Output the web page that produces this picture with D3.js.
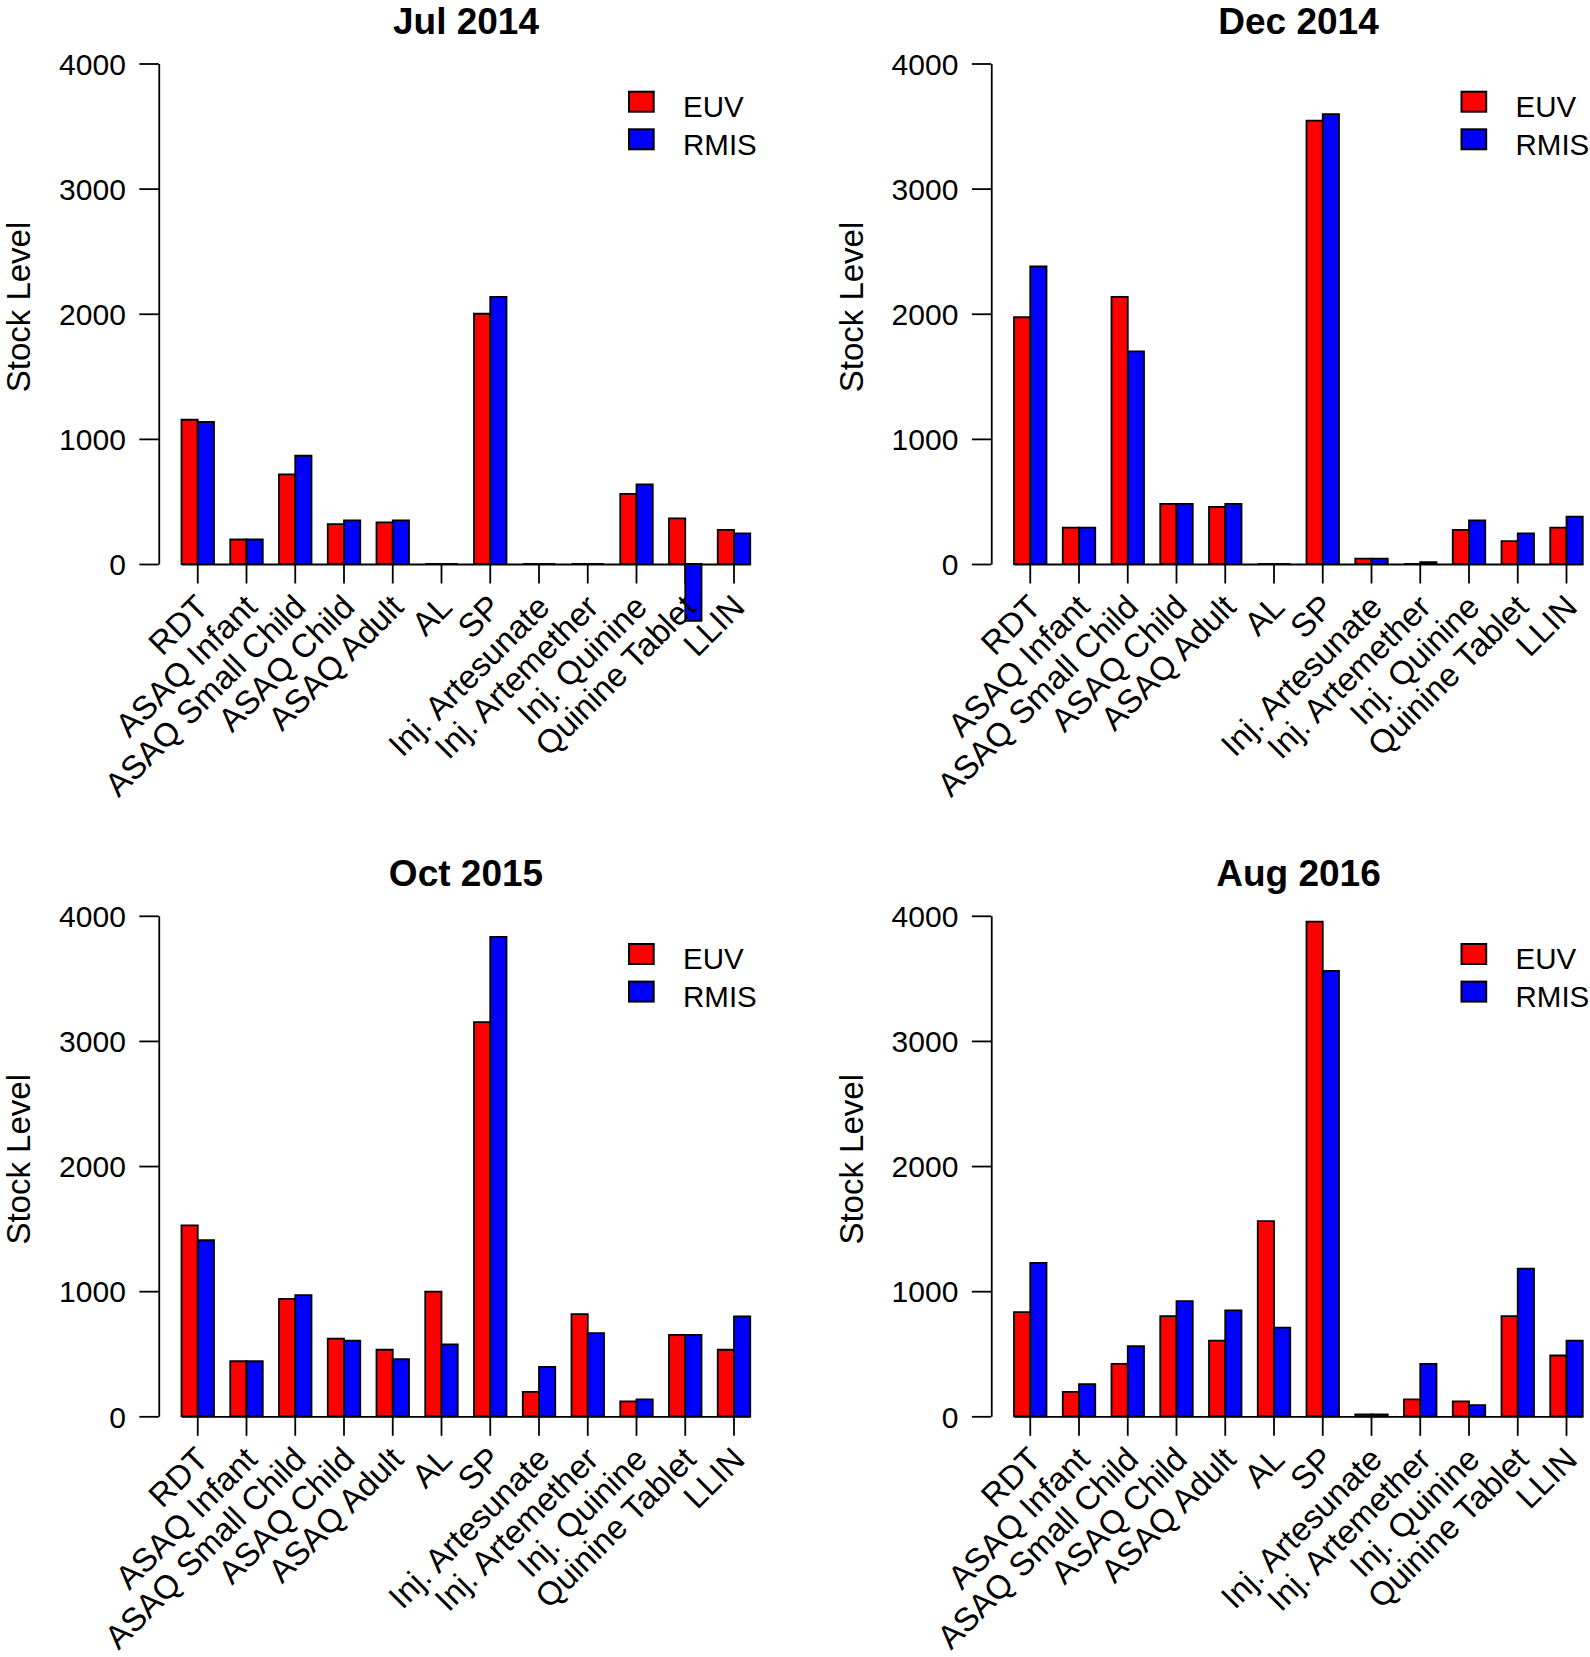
<!DOCTYPE html>
<html>
<head>
<meta charset="utf-8">
<script src="https://cdn.jsdelivr.net/npm/d3@7"></script>
<style>
  html, body { margin: 0; padding: 0; background: #fff; }
  svg { display: block; font-family: "Liberation Sans", Arial, Helvetica, sans-serif; }
</style>
</head>
<body>
<script>
// ---------------- data ----------------
const categories = ["RDT", "ASAQ Infant", "ASAQ Small Child", "ASAQ Child", "ASAQ Adult", "AL", "SP",
  "Inj. Artesunate", "Inj. Artemether", "Inj. Quinine", "Quinine Tablet", "LLIN"];
const seriesNames = ["EUV", "RMIS"];
const seriesColors = ["#ff0000", "#0000ff"];
const periods = ["Jul 2014", "Dec 2014", "Oct 2015", "Aug 2016"];

const jul2014EUV  = [1153, 196, 716, 318, 333, 0, 2000, 0, 0, 560, 364, 272];
const jul2014RMIS = [1135, 196, 865, 349, 349, 0, 2135, 0, 0, 636, -455, 245];
const dec2014EUV  = [1972, 290, 2135, 480, 456, 0, 3544, 43, 0, 272, 183, 290];
const dec2014RMIS = [2379, 290, 1700, 480, 480, 0, 3596, 43, 15, 349, 245, 379];
const oct2015EUV  = [1526, 440, 939, 621, 532, 997, 3150, 196, 816, 119, 651, 532];
const oct2015RMIS = [1407, 440, 969, 605, 456, 575, 3832, 394, 664, 135, 651, 798];
const aug2016EUV  = [832, 196, 419, 801, 605, 1560, 3954, 15, 135, 119, 801, 486];
const aug2016RMIS = [1226, 257, 560, 920, 847, 709, 3560, 15, 419, 89, 1180, 605];

const yTicks = [0, 1000, 2000, 3000, 4000];
const yDomain = [0, 4000];
const yLabel = "Stock Level";

const panelSeries = [
  [jul2014EUV, jul2014RMIS],
  [dec2014EUV, dec2014RMIS],
  [oct2015EUV, oct2015RMIS],
  [aug2016EUV, aug2016RMIS]
];

// ---------------- layout ----------------
const W = 1590, H = 1657;
const panelOrigins = [[0, 0], [832.5, 0], [0, 852.3], [832.5, 852.3]];
const axisX = 158.75;
const barsLeft = 181.5, barsRight = 750.25;
const plotRight = 773.25;
const yTop = 63.5, yZero = 564;

const svg = d3.select("body").append("svg")
  .attr("width", W).attr("height", H)
  .attr("viewBox", `0 0 ${W} ${H}`);

const y = d3.scaleLinear().domain(yDomain).range([yZero, yTop]);
const xGroup = d3.scaleBand().domain(categories).range([barsLeft, barsRight])
  .paddingInner(1 / 3).paddingOuter(0);
const xSub = d3.scaleBand().domain(seriesNames).range([0, xGroup.bandwidth()]).padding(0);

function barPath(x0, w, v) {
  const y0 = y(0), y1 = y(v);
  return `M${x0},${y0}V${y1}H${x0 + w}V${y0}Z`;
}

periods.forEach((title, pi) => {
  const [ox, oy] = panelOrigins[pi];
  const g = svg.append("g").attr("transform", `translate(${ox},${oy})`);
  const vals = panelSeries[pi];

  // x axis (line at zero + ticks at group centres)
  const xAxis = d3.axisBottom(xGroup).tickSize(19.5).tickSizeOuter(0).tickFormat("");
  const gx = g.append("g").attr("transform", `translate(0,${y(0)})`).call(xAxis);
  gx.selectAll("path, line").attr("stroke", "#000").attr("stroke-width", 1.8);

  // bars
  seriesNames.forEach((s, si) => {
    g.append("g").selectAll("path.bar")
      .data(categories.map((c, i) => ({ c, v: vals[si][i] })))
      .join("path")
      .attr("class", "bar")
      .attr("d", d => barPath(xGroup(d.c) + xSub(s), xSub.bandwidth(), d.v))
      .attr("fill", seriesColors[si])
      .attr("stroke", "#000")
      .attr("stroke-width", 1.8)
      .attr("stroke-linejoin", "miter");
  });

  // y axis
  const yAxis = d3.axisLeft(y).tickValues(yTicks).tickSize(19.4).tickSizeOuter(0).tickPadding(13.5)
    .tickFormat(d3.format("d"));
  const gy = g.append("g").attr("transform", `translate(${axisX},0)`).call(yAxis);
  gy.selectAll("path, line").attr("stroke", "#000").attr("stroke-width", 1.8);
  gy.selectAll("text").attr("font-size", 30).attr("fill", "#000")
    .attr("font-family", "Liberation Sans, Arial, sans-serif").attr("dy", "0.36em");

  // category labels, rotated 45 degrees
  g.append("g").selectAll("text")
    .data(categories)
    .join("text")
    .attr("transform", d => `translate(${xGroup(d) + xGroup.bandwidth() / 2 + 12.5},${y(0) + 45}) rotate(-45)`)
    .attr("text-anchor", "end")
    .attr("font-size", 33)
    .attr("fill", "#000")
    .text(d => d);

  // title
  g.append("text")
    .attr("x", (axisX + plotRight) / 2).attr("y", 34)
    .attr("text-anchor", "middle")
    .attr("font-size", 37).attr("font-weight", "bold")
    .text(title);

  // y label
  g.append("text")
    .attr("transform", `translate(30,307) rotate(-90)`)
    .attr("text-anchor", "middle")
    .attr("font-size", 33)
    .text(yLabel);

  // legend
  const lg = g.append("g");
  seriesNames.forEach((s, si) => {
    lg.append("rect")
      .attr("x", 629).attr("y", 91.7 + si * 37.6)
      .attr("width", 24.7).attr("height", 20)
      .attr("fill", seriesColors[si]).attr("stroke", "#000").attr("stroke-width", 2);
    lg.append("text")
      .attr("x", 683).attr("y", 116.7 + si * 38.3)
      .attr("font-size", 29.5)
      .text(s);
  });
});
</script>
</body>
</html>
